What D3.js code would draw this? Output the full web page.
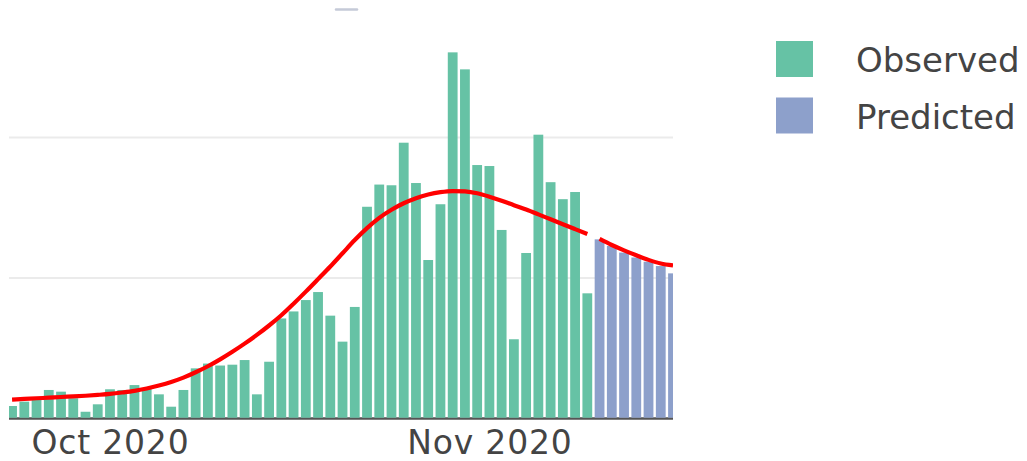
<!DOCTYPE html>
<html>
<head>
<meta charset="utf-8">
<script src="https://cdn.jsdelivr.net/npm/d3@7"></script>
<style>
  html, body { margin: 0; padding: 0; background: #fff; }
  svg { display: block; }
</style>
</head>
<body>
<svg id="chart" width="1027" height="461"></svg>
<script>
// ---- data ----
const observedStart = "2020-09-23";
const observedEnd = "2020-11-09";
const predictedStart = "2020-11-10";
const predictedEnd = "2020-11-16";

const observedValues = [
  8.9, 12.0, 13.2, 20.3, 19.1, 14.4, 4.8, 10.1,
  20.8, 20.3, 23.8, 21.5, 17.2, 8.4, 20.3, 35.7, 39.1, 37.7, 38.3, 41.6,
  17.2, 40.4, 71.2, 76.2, 84.3, 90.0, 73.2, 54.7, 79.4, 150.7, 166.5, 166.0,
  196.3, 167.6, 112.8, 152.5, 260.6, 248.5, 180.4, 179.7,
  134.2, 56.4, 117.8, 202.0, 168.2, 156.1, 161.2, 89.1
];
const predictedValues = [127.5, 122.8, 118.1, 114.6, 111.6, 108.5, 103.3];

const observedTrend = [
  13.4, 13.9, 14.4, 14.8, 15.3, 15.7, 16.2, 16.8,
  17.5, 18.5, 19.7, 21.4, 23.5, 26.0, 29.1, 32.9, 37.2, 42.1, 47.5, 53.3,
  59.5, 66.2, 73.5, 81.7, 90.3, 99.2, 108.2, 117.6, 127.0, 135.5, 142.8, 148.6,
  153.2, 156.8, 159.4, 161.1, 161.9, 161.6, 160.3, 157.9,
  155.0, 151.8, 148.7, 145.3, 141.8, 138.3, 134.8, 131.3
];
const predictedTrend = [127.8, 123.5, 119.7, 116.2, 112.9, 110.3, 109.0];

const gridValues = [100, 200];
const tickDates = ["2020-10-01", "2020-11-01"];
const tickLabels = ["Oct 2020", "Nov 2020"];
const seriesNames = ["Observed", "Predicted"];
const seriesColors = ["#66c2a5", "#8da0cb"];
const trendColor = "#ff0000";

// ---- build ----
const parse = d3.utcParse("%Y-%m-%d");
const dayRange = (a, b) => d3.utcDay.range(parse(a), d3.utcDay.offset(parse(b), 1));
const obsDates = dayRange(observedStart, observedEnd);
const predDates = dayRange(predictedStart, predictedEnd);
const observed = obsDates.map((d, i) => ({ date: d, value: observedValues[i], trend: observedTrend[i] }));
const predicted = predDates.map((d, i) => ({ date: d, value: predictedValues[i], trend: predictedTrend[i] }));

const plot = { left: 9, right: 673, bottom: 418.5 };
const svg = d3.select("#chart");

const xStart = d3.utcHour.offset(parse("2020-10-01"), -198); // 8.25 days before Oct 1
const xEnd = parse("2020-11-16");
const x = d3.scaleUtc().domain([xStart, xEnd]).range([plot.left, plot.right]);
const y = d3.scaleLinear().domain([0, 300]).range([plot.bottom, plot.bottom - 300 * 1.405]);

const dayW = x(d3.utcDay.offset(xStart, 1)) - x(xStart);
const barW = dayW * 0.8;

svg.append("defs").append("clipPath").attr("id", "clip")
  .append("rect").attr("x", plot.left).attr("y", 0)
  .attr("width", plot.right - plot.left).attr("height", plot.bottom + 1);

// gridlines
svg.append("g").selectAll("line").data(gridValues).join("line")
  .attr("x1", plot.left).attr("x2", plot.right)
  .attr("y1", d => y(d)).attr("y2", d => y(d))
  .attr("stroke", "#ebebeb").attr("stroke-width", 2);

// x axis line
svg.append("line")
  .attr("x1", plot.left).attr("x2", plot.right)
  .attr("y1", plot.bottom).attr("y2", plot.bottom)
  .attr("stroke", "#555").attr("stroke-width", 2.5);

const g = svg.append("g").attr("clip-path", "url(#clip)");

// bars
g.append("g").selectAll("rect").data(observed).join("rect")
  .attr("x", d => x(d.date) - barW / 2).attr("width", barW)
  .attr("y", d => y(d.value)).attr("height", d => y(0) - y(d.value) - 0.8)
  .attr("fill", seriesColors[0]);
g.append("g").selectAll("rect").data(predicted).join("rect")
  .attr("x", d => x(d.date) - barW / 2).attr("width", barW)
  .attr("y", d => y(d.value)).attr("height", d => y(0) - y(d.value) - 0.8)
  .attr("fill", seriesColors[1]);

// trend lines
const line = d3.line().x(d => x(d.date)).y(d => y(d.trend)).curve(d3.curveMonotoneX);
[observed, predicted].forEach(s => {
  g.append("path").datum(s).attr("d", line)
    .attr("fill", "none").attr("stroke", trendColor)
    .attr("stroke-width", 4.2).attr("stroke-linejoin", "round");
});

// x axis labels
const xAxis = d3.axisBottom(x)
  .tickValues(tickDates.map(parse))
  .tickFormat((d, i) => tickLabels[i])
  .tickSize(0).tickPadding(0);
const ax = svg.append("g").attr("transform", `translate(0,${plot.bottom})`).call(xAxis);
ax.select(".domain").remove();
ax.selectAll("text")
  .attr("dy", null).attr("y", 35.5)
  .attr("fill", "#444")
  .style("font-family", "'DejaVu Sans', Verdana, sans-serif")
  .style("font-size", "33px")
  .style("letter-spacing", "0.8px");

// faint fragment at the top
svg.append("line").attr("x1", 336).attr("x2", 357).attr("y1", 9.5).attr("y2", 9.5)
  .attr("stroke", "#c5cad8").attr("stroke-width", 2.5).attr("stroke-linecap", "round");

// legend
const legend = svg.append("g").attr("transform", "translate(776,41)");
seriesNames.forEach((name, i) => {
  const row = legend.append("g").attr("transform", `translate(0,${i * 56.5})`);
  row.append("rect").attr("width", 37).attr("height", 36).attr("fill", seriesColors[i]);
  row.append("text").attr("x", 80).attr("y", 31)
    .attr("fill", "#444")
    .style("font-family", "'DejaVu Sans', Verdana, sans-serif")
    .style("font-size", "34px")
    .text(name);
});
</script>
</body>
</html>
